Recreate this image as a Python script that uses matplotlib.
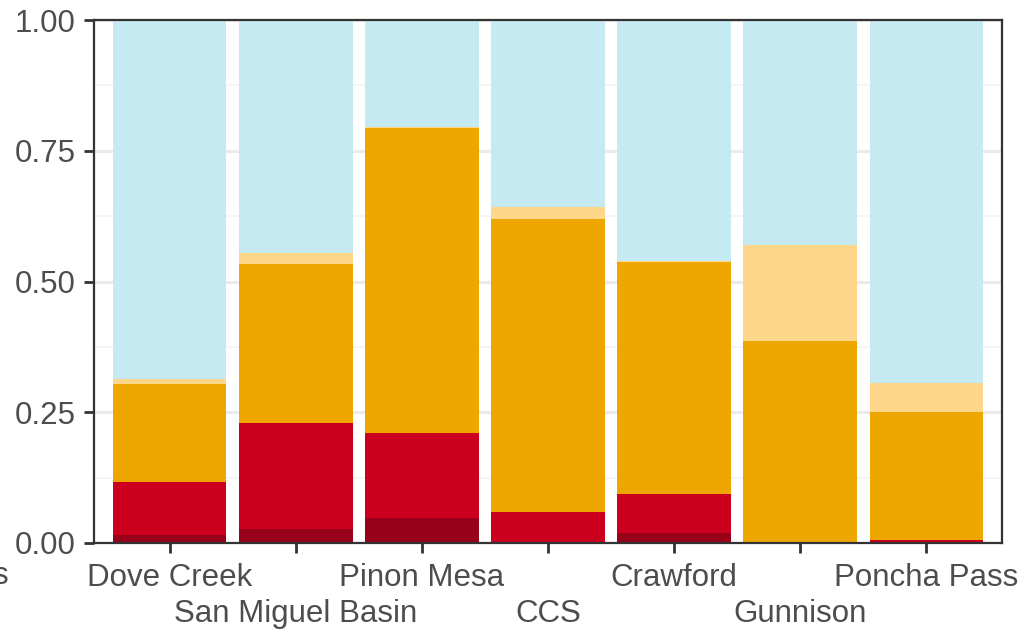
import matplotlib
matplotlib.use("Agg")
import matplotlib.pyplot as plt
import numpy as np

sites = ["Dove Creek", "San Miguel Basin", "Pinon Mesa", "CCS",
         "Crawford", "Gunnison", "Poncha Pass"]

# proportions per site, stacked bottom to top
very_high = [0.015, 0.027, 0.048, 0.000, 0.019, 0.000, 0.000]
high      = [0.102, 0.202, 0.162, 0.060, 0.075, 0.000, 0.005]
moderate  = [0.187, 0.304, 0.584, 0.560, 0.443, 0.386, 0.245]
low       = [0.010, 0.021, 0.002, 0.023, 0.002, 0.183, 0.055]
none      = [1 - sum(v) for v in zip(very_high, high, moderate, low)]

layers = [very_high, high, moderate, low, none]
colors = ["#990019", "#CC001E", "#EEA600", "#FED68A", "#C6EAF1"]

plt.rcParams["font.family"] = ["Liberation Sans", "DejaVu Sans"]

W, H = 1022, 629
fig = plt.figure(figsize=(W / 100, H / 100), dpi=100)
ax = fig.add_axes([94 / W, (H - 543) / H, (1002 - 94) / W, (543 - 20) / H])

x = np.arange(1, len(sites) + 1)
bottom = np.zeros(len(sites))
for vals, col in zip(layers, colors):
    vals = np.array(vals)
    ax.bar(x, vals, bottom=bottom, width=0.9, color=col, edgecolor="none", zorder=2)
    bottom += vals

ax.set_xlim(0.4, len(sites) + 0.6)
ax.set_ylim(0, 1)

ax.set_yticks([0, 0.25, 0.5, 0.75, 1.0])
ax.set_yticklabels(["0.00", "0.25", "0.50", "0.75", "1.00"])
ax.set_yticks([0.125, 0.375, 0.625, 0.875], minor=True)
ax.grid(axis="y", which="major", color="#EBEBEB", linewidth=2.2, zorder=0)
ax.grid(axis="y", which="minor", color="#F2F2F2", linewidth=1.1, zorder=0)
ax.tick_params(axis="y", which="minor", length=0)

ax.set_xticks(x)
ax.set_xticklabels(sites)

ax.tick_params(axis="both", which="major", length=7, width=2, color="#333333",
               labelcolor="#4D4D4D", labelsize=22.5, pad=6)
ax.tick_params(axis="x", which="major", pad=7.5)

# dodge the x labels onto two rows
for i, tick in enumerate(ax.xaxis.get_major_ticks()):
    if i % 2 == 1:
        tick.set_pad(7.5 + 26)

for sp in ax.spines.values():
    sp.set_color("#333333")
    sp.set_linewidth(1.6)

# last label of the neighbouring panel, running off the left edge
fig.text(8 / W, (H - 576) / H, "s", ha="right", va="center",
         fontsize=22.5, color="#4D4D4D")

fig.savefig("out.png", dpi=100)
